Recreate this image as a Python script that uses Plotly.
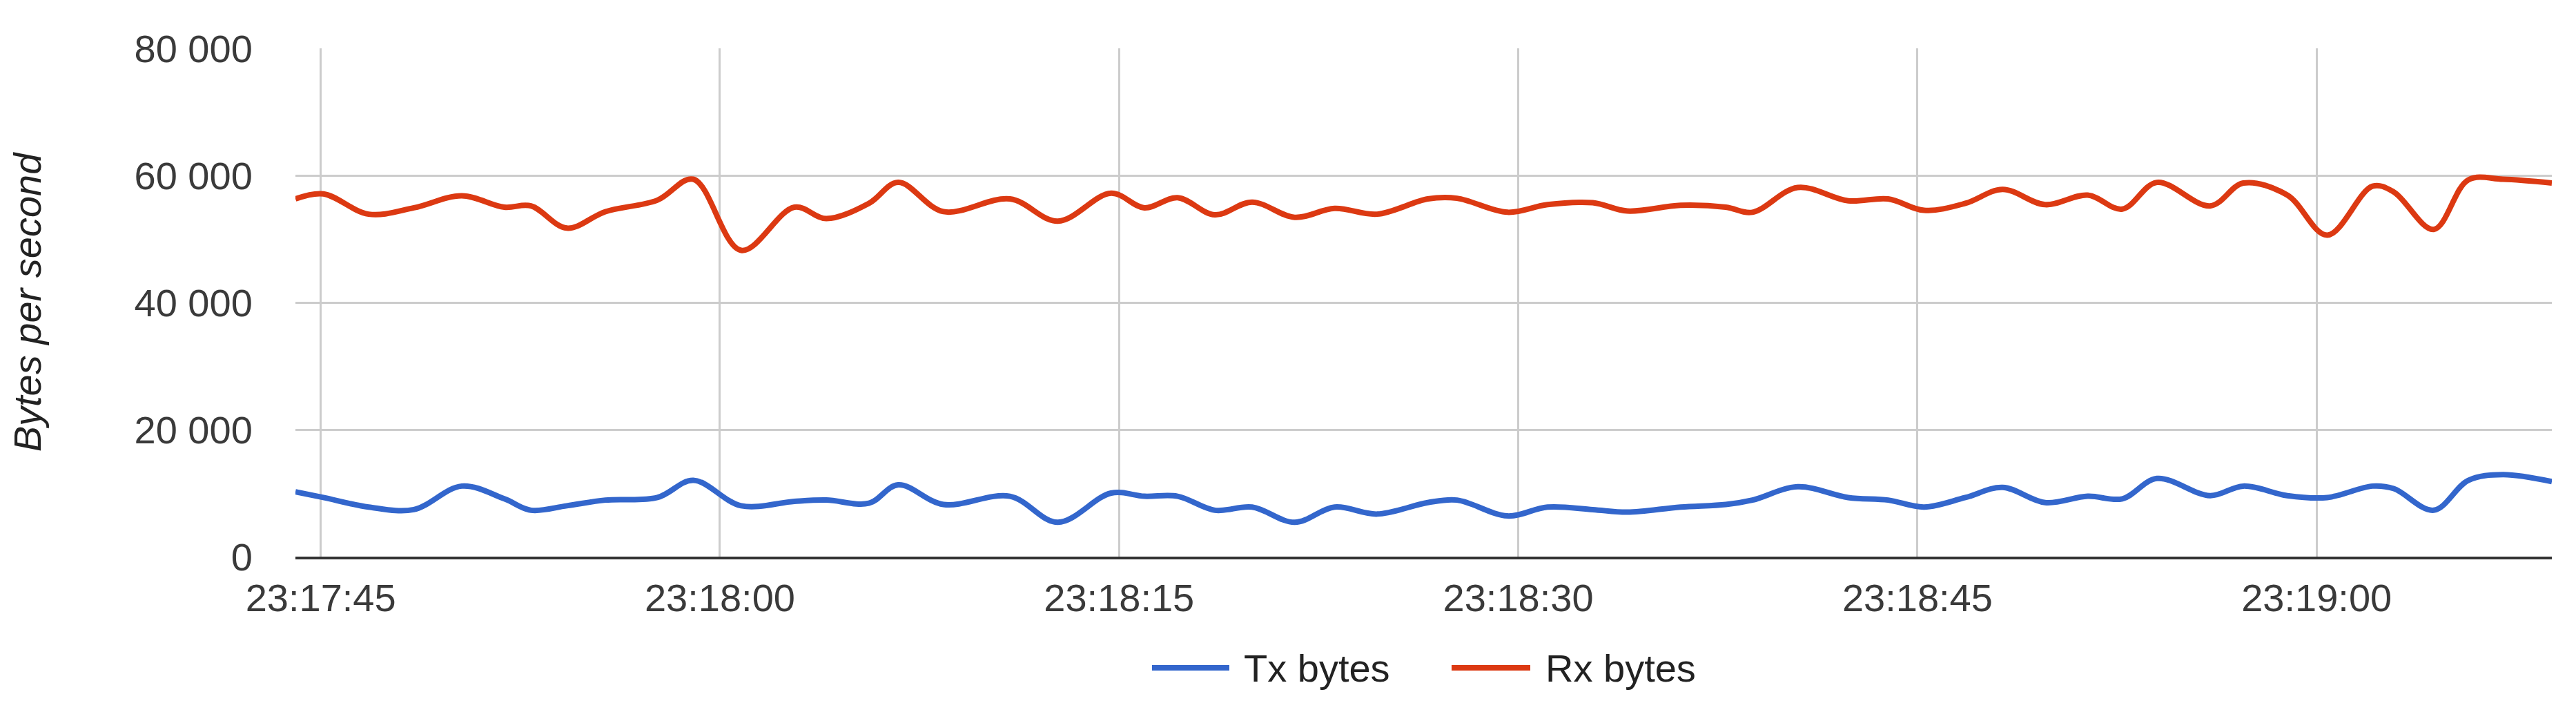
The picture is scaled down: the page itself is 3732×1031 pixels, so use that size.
import plotly.graph_objects as go

# ---- data ----
DATE = "2016-01-01 "
times = [
    "23:17:44.05", "23:17:45.1", "23:17:46.8", "23:17:48.5", "23:17:50.3",
    "23:17:51.9", "23:17:52.9", "23:17:54.25", "23:17:55.7", "23:17:57.65",
    "23:17:59.0", "23:18:00.8", "23:18:02.8", "23:18:04.0", "23:18:05.6",
    "23:18:06.7", "23:18:08.4", "23:18:10.9", "23:18:12.7", "23:18:14.7",
    "23:18:15.95", "23:18:17.2", "23:18:18.6", "23:18:20.0", "23:18:21.6",
    "23:18:23.1", "23:18:24.7", "23:18:26.6", "23:18:27.7", "23:18:29.6",
    "23:18:31.1", "23:18:32.8", "23:18:34.1", "23:18:36.1", "23:18:37.8",
    "23:18:38.8", "23:18:40.5", "23:18:42.4", "23:18:43.9", "23:18:45.25",
    "23:18:46.8", "23:18:48.2", "23:18:49.8", "23:18:51.4", "23:18:52.7",
    "23:18:54.0", "23:18:56.0", "23:18:57.25", "23:18:58.9", "23:19:00.4",
    "23:19:02.1", "23:19:02.9", "23:19:04.4", "23:19:05.7", "23:19:07.0",
    "23:19:08.84",
]
tx_bytes = [
    10200, 9300, 7800, 7400, 11100,
    9100, 7300, 8000, 8900, 9300,
    12000, 8000, 8700, 8900, 8400,
    11300, 8200, 9500, 5400, 10000,
    9500, 9500, 7300, 7800, 5400,
    7800, 6700, 8500, 8900, 6400,
    7800, 7400, 7000, 7800, 8200,
    8900, 11000, 9300, 8900, 7800,
    9300, 10900, 8500, 9500, 9100,
    12300, 9600, 11100, 9600, 9300,
    11100, 10700, 7300, 12000, 12900,
    11800,
]
rx_bytes = [
    56300, 57100, 53900, 54900, 56800,
    55000, 55200, 51700, 54300, 56100,
    59400, 48200, 55000, 53200, 55600,
    58900, 54300, 56300, 52800, 57200,
    54900, 56500, 53800, 55800, 53400,
    54800, 53900, 56300, 56400, 54200,
    55400, 55700, 54400, 55300, 55000,
    54200, 58100, 56000, 56300, 54500,
    55600, 57800, 55400, 56900, 54700,
    58900, 55200, 58800, 56900, 50600,
    58300, 57400, 51500, 59300, 59400,
    58800,
]
series_names = ["Tx bytes", "Rx bytes"]
series_colors = ["#3366CC", "#DC3912"]
y_ticks = [0, 20000, 40000, 60000, 80000]
x_tick_start = "23:17:45"
y_title = "Bytes per second"

x = [DATE + t for t in times]

FONT = "Liberation Sans, Arial, sans-serif"
TXT = "#3a3a3a"
FS = 56

fig = go.Figure()
for name, vals, col in zip(series_names, [tx_bytes, rx_bytes], series_colors):
    fig.add_trace(go.Scatter(
        x=x, y=vals, name=name, mode="lines",
        line=dict(color=col, width=8, shape="spline", smoothing=1.0),
        showlegend=False,
    ))

W, H = 3732, 1031
ML, MR, MT, MB = 420, 43, 62, 233
PW, PH = W - ML - MR, H - MT - MB

def xp(px):
    return (px - ML) / PW

def yp(py):
    return (H - MB - py) / PH

shapes = []
annotations = []
# custom legend (line samples + labels)
leg_items = [(1661, 1773, 1792), (2095, 2209, 2229)]
leg_y = 959
for (x0, x1, xt), name, col in zip(leg_items, series_names, series_colors):
    shapes.append(dict(type="line", xref="paper", yref="paper",
                       x0=xp(x0), x1=xp(x1), y0=yp(leg_y), y1=yp(leg_y),
                       line=dict(color=col, width=8)))
    annotations.append(dict(xref="paper", yref="paper", x=xp(xt), y=yp(leg_y),
                            text=name, showarrow=False, xanchor="left",
                            yanchor="middle",
                            font=dict(family=FONT, size=FS, color="#222222")))

fig.update_layout(
    width=W, height=H,
    margin=dict(l=ML, r=MR, t=MT, b=MB, autoexpand=False),
    paper_bgcolor="white", plot_bgcolor="white",
    separators=". ",
    font=dict(family=FONT, size=FS, color=TXT),
    shapes=shapes, annotations=annotations,
    showlegend=False,
)
fig.update_xaxes(
    type="date",
    range=[x[0], x[-1]],
    tick0=DATE + x_tick_start, dtick=15000,
    tickformat="%H:%M:%S",
    showgrid=True, gridcolor="#cccccc", gridwidth=3,
    showline=True, linecolor="#333333", linewidth=4,
    ticks="outside", ticklen=8, tickcolor="rgba(0,0,0,0)",
    tickfont=dict(family=FONT, size=FS, color=TXT),
    zeroline=False,
)
fig.update_yaxes(
    range=[0, 80000],
    tickvals=y_ticks,
    tickformat=",d",
    showgrid=True, gridcolor="#cccccc", gridwidth=3,
    zeroline=False, showline=False,
    ticks="outside", ticklen=50, tickcolor="rgba(0,0,0,0)",
    tickfont=dict(family=FONT, size=FS, color=TXT),
    title=dict(text="<i>" + y_title + "</i>", standoff=120,
               font=dict(family=FONT, size=FS, color="#222222")),
)

fig.write_html("out.html")
